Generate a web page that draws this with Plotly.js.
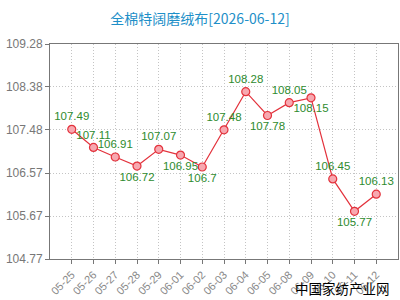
<!DOCTYPE html>
<html><head><meta charset="utf-8">
<script src="https://cdn.plot.ly/plotly-3.0.1.min.js"></script>
<style>html,body{margin:0;padding:0;background:#fff}#c{width:400px;height:300px}</style>
</head><body><div id="c"></div>
<script>
const dates = ["05-25","05-26","05-27","05-28","05-29","06-01","06-02","06-03","06-04","06-05","06-08","06-09","06-10","06-11","06-12"];
const prices = [107.49,107.11,106.91,106.72,107.07,106.95,106.7,107.48,108.28,107.78,108.05,108.15,106.45,105.77,106.13];
const labelPos = ["top center","top center","top center","bottom center","top center","bottom center","bottom center","top center","top center","bottom center","top center","bottom center","top center","bottom center","top center"];
const yTicks = [104.77,105.67,106.57,107.48,108.38,109.28];
const yTickText = ["104.77","105.67","106.57","107.48","108.38","109.28"];

const trace = {
  x: dates, y: prices, type: 'scatter', mode: 'lines+markers+text',
  text: prices.map(String), textposition: labelPos,
  textfont: {family: 'Liberation Sans, Arial, sans-serif', size: 11.5, color: '#2e8b2e'},
  line: {color: '#e3323c', width: 1.2},
  marker: {symbol: 'circle', size: 8, color: '#f7a8b0', line: {color: '#e3323c', width: 1.2}},
  cliponaxis: false, hoverinfo: 'none'
};
const layout = {
  width: 400, height: 300,
  margin: {l: 50, r: 2, t: 44, b: 41},
  paper_bgcolor: '#fff', plot_bgcolor: '#fff',
  showlegend: false,
  title: {text: '全棉特阔磨绒布[2026-06-12]', x: 0.5, xanchor: 'center', y: 0.935, yanchor: 'middle',
    font: {family: 'Noto Sans CJK SC, sans-serif', size: 14, color: '#1e8fc8'}},
  xaxis: {type: 'category', range: [-1, 15], tickangle: -45,
    showgrid: true, gridcolor: '#c4c4c4', griddash: '1px,2px', gridwidth: 1,
    showline: true, linecolor: '#777', linewidth: 1, mirror: true,
    ticks: 'outside', ticklen: 4, tickcolor: '#777',
    tickfont: {family: 'Liberation Sans, Arial, sans-serif', size: 11, color: '#888'}, fixedrange: true},
  yaxis: {range: [104.77, 109.28], tickvals: yTicks, ticktext: yTickText,
    showgrid: true, gridcolor: '#c4c4c4', griddash: '1px,2px', gridwidth: 1, zeroline: false,
    showline: true, linecolor: '#777', linewidth: 1, mirror: true,
    ticks: 'outside', ticklen: 4, tickcolor: '#777',
    tickfont: {family: 'Liberation Sans, Arial, sans-serif', size: 12, color: '#777'}, fixedrange: true},
  annotations: [{text: '中国家纺产业网', xref: 'paper', yref: 'paper', x: 1, y: 0, xanchor: 'right', yanchor: 'middle',
    xshift: -6, yshift: -29, showarrow: false,
    font: {family: 'Noto Sans CJK SC, sans-serif', size: 13.5, color: '#000'}}]
};
Plotly.newPlot('c', [trace], layout, {staticPlot: true, displayModeBar: false});
</script></body></html>
